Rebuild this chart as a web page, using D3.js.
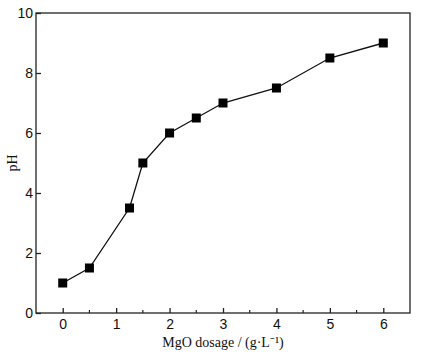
<!DOCTYPE html>
<html>
<head>
<meta charset="utf-8">
<script src="https://cdn.jsdelivr.net/npm/d3@7"></script>
<style>
  body { margin: 0; background: #fff; }
  svg { display: block; }
</style>
</head>
<body>
<div id="chart"></div>
<script>
const dosage = [0, 0.5, 1.25, 1.5, 2, 2.5, 3, 4, 5, 6];
const phValues = [1, 1.5, 3.5, 5, 6, 6.5, 7, 7.5, 8.5, 9];
const xTicks = [0, 1, 2, 3, 4, 5, 6];
const xMinorTicks = [0.5, 1.5, 2.5, 3.5, 4.5, 5.5];
const yTicks = [0, 2, 4, 6, 8, 10];

const width = 424, height = 357;
const margin = { top: 13, right: 14, bottom: 44, left: 36 };

const svg = d3.select('#chart')
  .append('svg')
  .attr('width', width)
  .attr('height', height)
  .attr('font-family', '"Liberation Serif", "Times New Roman", serif');

const x = d3.scaleLinear().domain([-0.5, 6.5]).range([margin.left, width - margin.right]);
const y = d3.scaleLinear().domain([0, 10]).range([height - margin.bottom, margin.top]);

const data = dosage.map((d, i) => ({ x: d, y: phValues[i] }));

// frame
svg.append('rect')
  .attr('x', x(-0.5))
  .attr('y', y(10))
  .attr('width', x(6.5) - x(-0.5))
  .attr('height', y(0) - y(10))
  .attr('fill', 'none')
  .attr('stroke', '#222')
  .attr('stroke-width', 1.3);

// x axis, ticks pointing in
const xAxis = svg.append('g')
  .attr('transform', `translate(0,${y(0)})`)
  .call(d3.axisBottom(x).tickValues(xTicks).tickSizeInner(-5).tickSizeOuter(0).tickPadding(6).tickFormat(d3.format('d')));
xAxis.select('.domain').remove();
xAxis.selectAll('.tick line').attr('stroke', '#222').attr('stroke-width', 1.3);
xAxis.selectAll('.tick text').attr('font-size', 14).attr('fill', '#111');

svg.append('g')
  .selectAll('line')
  .data(xMinorTicks)
  .join('line')
  .attr('x1', d => x(d)).attr('x2', d => x(d))
  .attr('y1', y(0)).attr('y2', y(0) - 3)
  .attr('stroke', '#222')
  .attr('stroke-width', 1.2);

// y axis
const yAxis = svg.append('g')
  .attr('transform', `translate(${x(-0.5)},0)`)
  .call(d3.axisLeft(y).tickValues(yTicks).tickSizeInner(-5).tickSizeOuter(0).tickPadding(3));
yAxis.select('.domain').remove();
yAxis.selectAll('.tick line').attr('stroke', '#222').attr('stroke-width', 1.3);
yAxis.selectAll('.tick text').attr('font-size', 14).attr('fill', '#111');

// line + markers
svg.append('path')
  .datum(data)
  .attr('fill', 'none')
  .attr('stroke', '#111')
  .attr('stroke-width', 1.3)
  .attr('d', d3.line().x(d => x(d.x)).y(d => y(d.y)));

svg.append('g')
  .selectAll('rect')
  .data(data)
  .join('rect')
  .attr('x', d => x(d.x) - 4.5)
  .attr('y', d => y(d.y) - 4.5)
  .attr('width', 9)
  .attr('height', 9)
  .attr('fill', '#000');

// labels
svg.append('text')
  .attr('x', (x(-0.5) + x(6.5)) / 2)
  .attr('y', 347)
  .attr('text-anchor', 'middle')
  .attr('font-size', 14)
  .attr('fill', '#111')
  .text('MgO dosage / (g·L⁻¹)');

svg.append('text')
  .attr('transform', `translate(17,${(y(0) + y(10)) / 2}) rotate(-90)`)
  .attr('text-anchor', 'middle')
  .attr('font-size', 14)
  .attr('fill', '#111')
  .text('pH');
</script>
</body>
</html>
